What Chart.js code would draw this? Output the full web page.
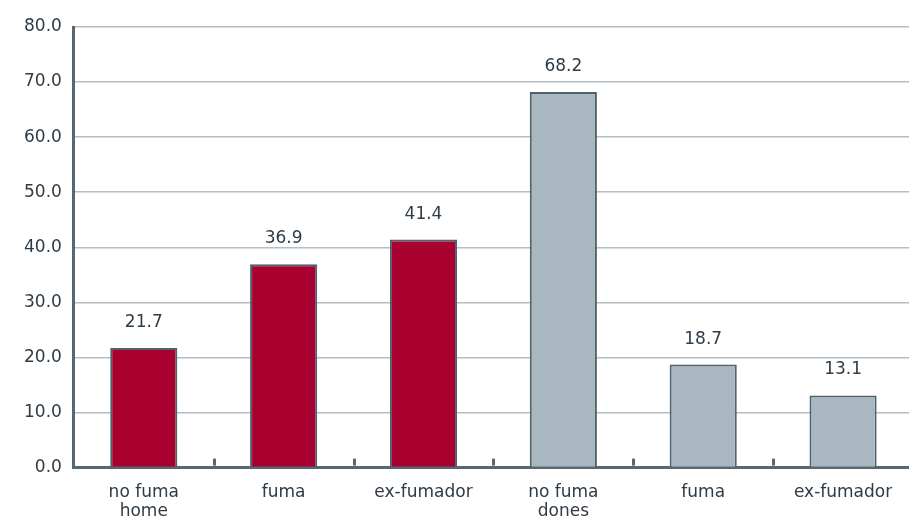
<!DOCTYPE html>
<html>
<head>
<meta charset="utf-8">
<script src="https://cdn.jsdelivr.net/npm/chart.js@4"></script>
<style>
  html, body { margin: 0; padding: 0; background: #fff; overflow: hidden; }
  #wrap { width: 913px; height: 517px; }
</style>
</head>
<body>
<div id="wrap"><canvas id="c1"></canvas></div>
<script>
const categories = [['no fuma', 'home'], 'fuma', 'ex-fumador', ['no fuma', 'dones'], 'fuma', 'ex-fumador'];
const values = [21.7, 36.9, 41.4, 68.2, 18.7, 13.1];
const barColors = ['#a8002f', '#a8002f', '#a8002f', '#a9b7c0', '#a9b7c0', '#a9b7c0'];
const yTicks = [0, 10, 20, 30, 40, 50, 60, 70, 80];

const textColor = '#2f3b45';
const axisColor = '#566873';
const fontFamily = '"DejaVu Sans", sans-serif';

// value above each bar
const valueLabels = {
    id: 'valueLabels',
    afterDatasetsDraw(chart) {
        const ctx = chart.ctx;
        const meta = chart.getDatasetMeta(0);
        ctx.save();
        ctx.font = '17px ' + fontFamily;
        ctx.fillStyle = textColor;
        ctx.textAlign = 'center';
        ctx.textBaseline = 'bottom';
        meta.data.forEach(function (bar, i) {
            ctx.fillText(values[i].toFixed(1), bar.x, bar.y - 17);
        });
        ctx.restore();
    }
};

// short marks sitting on the x axis between categories
const dividerMarks = {
    id: 'dividerMarks',
    afterDatasetsDraw(chart) {
        const ctx = chart.ctx;
        const x = chart.scales.x;
        const bottom = chart.chartArea.bottom;
        ctx.save();
        ctx.fillStyle = axisColor;
        for (let i = 1; i < categories.length; i++) {
            const px = (x.getPixelForTick(i - 1) + x.getPixelForTick(i)) / 2;
            ctx.fillRect(Math.round(px) - 1, bottom - 9, 3, 7);
        }
        ctx.restore();
    }
};

new Chart(document.getElementById('c1'), {
    type: 'bar',
    data: {
        labels: categories,
        datasets: [{
            data: values,
            backgroundColor: barColors,
            borderColor: '#4f616c',
            borderWidth: 2,
            barPercentage: 0.48,
            categoryPercentage: 1
        }]
    },
    options: {
        responsive: true,
        maintainAspectRatio: false,
        animation: false,
        layout: { padding: { top: 27, left: 12, right: 0, bottom: -12 } },
        plugins: {
            legend: { display: false },
            tooltip: { enabled: false }
        },
        scales: {
            x: {
                grid: { display: false },
                border: { color: axisColor, width: 3 },
                ticks: {
                    color: textColor,
                    font: { family: fontFamily, size: 17, lineHeight: 1.1 },
                    padding: 8,
                    maxRotation: 0,
                    autoSkip: false
                }
            },
            y: {
                min: 0,
                max: 80,
                afterBuildTicks: function (axis) {
                    axis.ticks = yTicks.map(v => ({ value: v }));
                },
                grid: { color: '#b3bec6', lineWidth: 1.5, drawTicks: false },
                border: { color: axisColor, width: 3 },
                ticks: {
                    color: textColor,
                    font: { family: fontFamily, size: 17 },
                    padding: 12,
                    callback: function (value) { return value.toFixed(1); }
                }
            }
        }
    },
    plugins: [valueLabels, dividerMarks]
});
</script>
</body>
</html>
